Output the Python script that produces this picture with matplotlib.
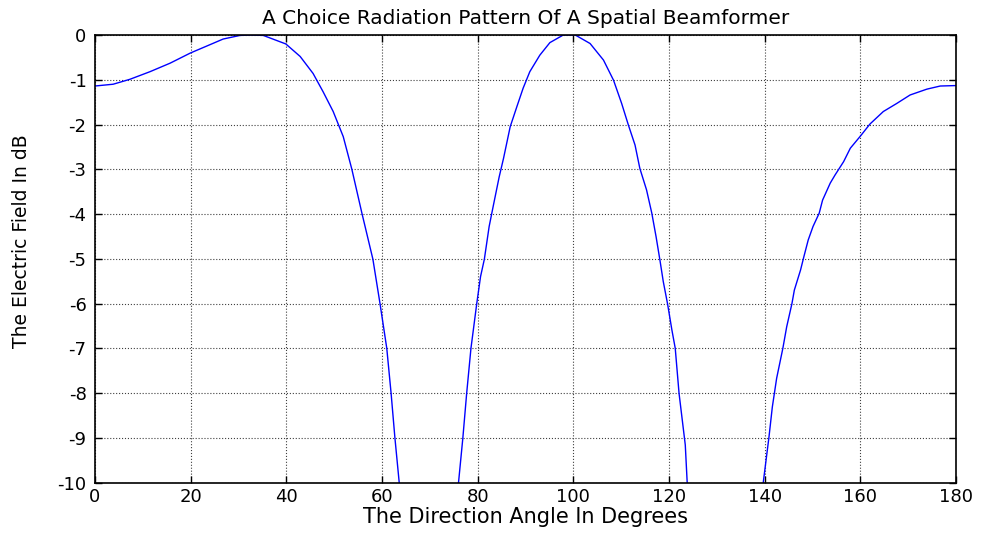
import numpy as np
import matplotlib
matplotlib.use('Agg')
import matplotlib.pyplot as plt

plt.rcParams['font.family'] = ['DejaVu Sans']
plt.rcParams['axes.unicode_minus'] = False

# angle (deg) and field (dB), NaN breaks the curve at the nulls
angle = [0, 3.8, 7.3, 11.5, 15.7, 20, 23.3, 26.8, 30.3, 32.7, 35.2, 39.9, 42.9, 45.6,
         47.7, 49.8, 51.9, 53.7, 55.8, 58.1, 59.6, 61.0, 61.9, 62.7, 63.6,
         np.nan,
         76.0, 76.9, 77.7, 78.6, 79.8, 80.6, 81.4, 82.4, 83.3, 84.5, 85.4, 86.8, 88.2,
         89.5, 90.9, 93.0, 95.1, 97.9, 99.2, 100.4, 103.5, 106.3, 108.4, 110.1, 111.5,
         112.9, 113.9, 115.3, 116.4, 117.3, 118.1, 118.8, 119.7, 120.6, 121.3, 122.1,
         123.4, 123.8,
         np.nan,
         139.7, 140.9, 141.6, 142.5, 143.8, 144.6, 145.7, 146.2, 147.5, 148.2, 149.1,
         150.1, 151.4, 152.1, 153.7, 154.7, 156.5, 157.9, 160.0, 162.0, 164.8, 167.6,
         170.4, 173.9, 176.7, 180]
field_db = [-1.14, -1.10, -0.99, -0.82, -0.63, -0.40, -0.25, -0.09, -0.01, 0, -0.01, -0.20,
            -0.48, -0.86, -1.27, -1.71, -2.27, -3.0, -3.98, -5.01, -6.01, -7.0, -8.0, -9.0,
            -10.0,
            np.nan,
            -10.0, -9.01, -8.01, -7.0, -6.01, -5.40, -5.01, -4.28, -3.80, -3.17, -2.76,
            -2.05, -1.60, -1.19, -0.82, -0.45, -0.17, 0, 0, 0, -0.19, -0.56, -1.01, -1.53,
            -2.01, -2.46, -2.98, -3.46, -3.98, -4.51, -5.03, -5.51, -6.01, -6.59, -7.0,
            -8.01, -9.16, -10.0,
            np.nan,
            -10.0, -8.98, -8.31, -7.67, -7.0, -6.52, -6.0, -5.70, -5.25, -4.95, -4.58,
            -4.28, -3.98, -3.69, -3.31, -3.13, -2.83, -2.53, -2.26, -1.99, -1.71, -1.53,
            -1.34, -1.21, -1.14, -1.13]

xticks = list(range(0, 181, 20))
yticks = list(range(-10, 1, 1))

fig = plt.figure(figsize=(9.85, 5.36), dpi=100)
ax = fig.add_axes([0.0964, 0.0998, 0.8742, 0.8349])

ax.plot(angle, field_db, color='#0000ff', linewidth=1.0)

ax.set_xlim(0, 180)
ax.set_ylim(-10, 0)
ax.set_xticks(xticks)
ax.set_yticks(yticks)
ax.tick_params(direction='in', top=True, right=True, length=5, width=1,
               labelsize=13)
ax.tick_params(axis='y', pad=6)
ax.tick_params(axis='x', pad=4)
ax.grid(True, color='#404040', linestyle=':', linewidth=0.8)
for s in ax.spines.values():
    s.set_linewidth(1.2)

ax.set_title('A Choice Radiation Pattern Of A Spatial Beamformer', fontsize=14.5, pad=8)
ax.set_xlabel('The Direction Angle In Degrees', fontsize=15, labelpad=1)
ax.set_ylabel('The Electric Field In dB', fontsize=13.5)
ax.yaxis.set_label_coords(-0.074, 0.54)

fig.savefig('out.png', dpi=100)
